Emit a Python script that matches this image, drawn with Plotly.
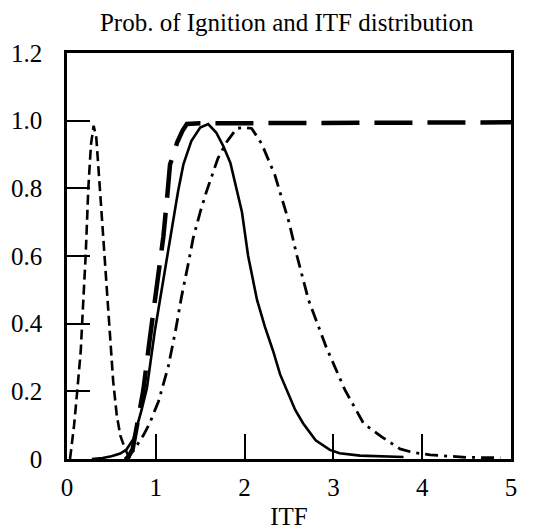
import plotly.graph_objects as go

# ITF distribution (narrow, short-dashed)
itf_a_x = [0.034, 0.08, 0.115, 0.155, 0.18, 0.21, 0.24, 0.27, 0.30, 0.33, 0.37,
           0.42, 0.46, 0.49, 0.52, 0.56, 0.60, 0.64, 0.68, 0.72]
itf_a_y = [0.0, 0.1, 0.2, 0.32, 0.45, 0.6, 0.8, 0.93, 0.985, 0.95, 0.8,
           0.6, 0.47, 0.35, 0.23, 0.13, 0.07, 0.04, 0.015, 0.0]

# Probability of ignition (long-dashed)
prob_x = [0.68, 0.74, 0.785, 0.86, 0.93, 1.01, 1.085, 1.13, 1.16, 1.24, 1.30,
          1.35, 1.5, 2.5, 5.0]
prob_y = [0.0, 0.03, 0.095, 0.204, 0.35, 0.5, 0.657, 0.78, 0.87, 0.935, 0.97,
          0.99, 0.992, 0.993, 0.995]

# ITF distribution (solid)
itf_b_x = [0.28, 0.4, 0.5, 0.6, 0.67, 0.75, 0.84, 0.9, 0.99, 1.08, 1.18, 1.25,
           1.31, 1.4, 1.5, 1.59, 1.68, 1.76, 1.84, 1.90, 1.97, 2.04, 2.14, 2.23,
           2.32, 2.40, 2.49, 2.57, 2.66, 2.8, 2.96, 3.07, 3.3, 3.5, 3.79]
itf_b_y = [0.0, 0.003, 0.008, 0.016, 0.028, 0.06, 0.145, 0.21, 0.38, 0.52, 0.677,
           0.79, 0.87, 0.94, 0.98, 0.99, 0.965, 0.925, 0.875, 0.81, 0.73, 0.6,
           0.47, 0.39, 0.32, 0.25, 0.194, 0.145, 0.105, 0.055, 0.027, 0.017,
           0.01, 0.008, 0.006]

# ITF distribution (dash-dot)
itf_c_x = [0.65, 0.75, 0.86, 0.93, 1.03, 1.14, 1.22, 1.29, 1.37, 1.42, 1.50,
           1.57, 1.70, 1.80, 1.91, 2.0, 2.08, 2.19, 2.34, 2.40, 2.5, 2.59, 2.72,
           2.92, 3.13, 3.34, 3.54, 3.75, 3.9, 4.09, 4.31, 4.5, 4.73, 4.88]
itf_c_y = [0.0, 0.025, 0.07, 0.105, 0.17, 0.273, 0.376, 0.48, 0.583, 0.652, 0.73,
           0.79, 0.889, 0.938, 0.977, 0.98, 0.977, 0.933, 0.84, 0.79, 0.7, 0.6,
           0.47, 0.33, 0.204, 0.105, 0.066, 0.03, 0.019, 0.012, 0.008, 0.005,
           0.004, 0.004]

x_ticks = [0, 1, 2, 3, 4, 5]
y_ticks = [0, 0.2, 0.4, 0.6, 0.8, 1.0, 1.2]
y_tick_text = ["0", "0.2", "0.4", "0.6", "0.8", "1.0", "1.2"]

FONT = "Liberation Serif"
tick_font = dict(family=FONT, size=25, color="black")

fig = go.Figure()
fig.add_trace(go.Scatter(x=itf_a_x, y=itf_a_y, mode="lines",
                         line=dict(color="black", width=2.6, dash="10px,5px")))
fig.add_trace(go.Scatter(x=prob_x, y=prob_y, mode="lines",
                         line=dict(color="black", width=4.5, dash="38px,15px")))
fig.add_trace(go.Scatter(x=itf_b_x, y=itf_b_y, mode="lines",
                         line=dict(color="black", width=2.6)))
fig.add_trace(go.Scatter(x=itf_c_x, y=itf_c_y, mode="lines",
                         line=dict(color="black", width=2.8,
                                   dash="13px,6px,3px,6px")))

fig.update_layout(
    width=536, height=530,
    margin=dict(l=67, r=25, t=53, b=71),
    paper_bgcolor="white", plot_bgcolor="white",
    showlegend=False,
    font=dict(family=FONT, color="black", size=25),
    title=dict(text="Prob. of Ignition and ITF distribution",
               x=0.535, xanchor="center", y=1 - 22 / 530, yanchor="middle",
               yref="container", font=dict(family=FONT, size=25, color="black")),
)
fig.update_xaxes(
    range=[0, 5], tickvals=x_ticks, ticks="inside", ticklen=25, tickwidth=1.5,
    tickcolor="black", showline=True, linecolor="black", linewidth=2.5,
    mirror=True, showgrid=False, zeroline=False, ticklabelstandoff=4,
    tickfont=tick_font, automargin=False,
    title=dict(text="ITF", standoff=29, font=tick_font),
)
fig.update_yaxes(
    range=[0, 1.2], tickvals=y_ticks, ticktext=y_tick_text, ticks="inside",
    ticklen=23, tickwidth=1.5, tickcolor="black", showline=True,
    linecolor="black", linewidth=2.5, mirror=True, showgrid=False,
    zeroline=False, ticklabelstandoff=17, tickfont=tick_font, automargin=False,
)

fig.write_html("out.html")
